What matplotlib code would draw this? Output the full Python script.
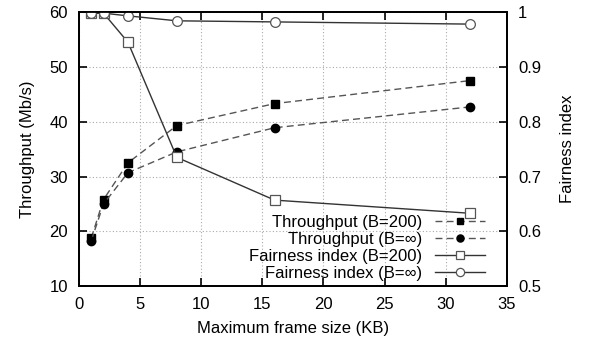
import matplotlib
matplotlib.use("Agg")
import matplotlib.pyplot as plt

plt.rcParams["font.family"] = ["Liberation Sans", "DejaVu Sans"]
plt.rcParams["font.size"] = 12

frame_kb = [1, 2, 4, 8, 16, 32]
thr_b200 = [18.8, 25.8, 32.5, 39.3, 43.3, 47.5]
thr_binf = [18.3, 25.0, 30.7, 34.5, 38.9, 42.7]
fair_b200 = [0.998, 0.998, 0.945, 0.735, 0.657, 0.633]
fair_binf = [0.998, 0.998, 0.993, 0.984, 0.982, 0.978]

fig, ax = plt.subplots(figsize=(5.9, 3.44), dpi=100)
ax2 = ax.twinx()

l1, = ax.plot(frame_kb, thr_b200, ls=(0, (5, 3)), color="#555555", lw=1,
              marker="s", ms=5.5, mfc="black", mec="black")
l2, = ax.plot(frame_kb, thr_binf, ls=(0, (5, 3)), color="#555555", lw=1,
              marker="o", ms=6, mfc="black", mec="black")
l3, = ax2.plot(frame_kb, fair_b200, ls="-", color="#333333", lw=1,
               marker="s", ms=6.5, mfc="white", mec="#555555", mew=0.9)
l4, = ax2.plot(frame_kb, fair_binf, ls="-", color="#333333", lw=1,
               marker="o", ms=7, mfc="white", mec="#555555", mew=0.9)

ax.set_xlim(0, 35)
ax.set_ylim(10, 60)
ax2.set_ylim(0.5, 1.0)
ax.set_xticks(range(0, 36, 5))
ax.set_yticks(range(10, 61, 10))
ax2.set_yticks([0.5, 0.6, 0.7, 0.8, 0.9, 1.0])
ax2.set_yticklabels(["0.5", "0.6", "0.7", "0.8", "0.9", "1"])

for a in (ax, ax2):
    for s in a.spines.values():
        s.set_linewidth(1.3)

ax.grid(True, ls=(0, (1, 2)), color="#aaaaaa", lw=0.8)
ax.tick_params(direction="in", length=6, width=1.2, top=True, right=False)
ax.tick_params(axis="x", pad=8)
ax.tick_params(axis="y", pad=8)
ax2.tick_params(direction="in", length=6, width=1.2, pad=8)

ax.set_xlabel("Maximum frame size (KB)", labelpad=6)
ax.set_ylabel("Throughput (Mb/s)", labelpad=10)
ax2.set_ylabel("Fairness index", labelpad=14)

ax2.legend([l1, l2, l3, l4],
           ["Throughput (B=200)", "Throughput (B=\u221e)",
            "Fairness index (B=200)", "Fairness index (B=\u221e)"],
           loc="lower right", frameon=False, markerfirst=False,
           handlelength=3.0, handletextpad=0.8, labelspacing=0.12,
           borderaxespad=0.0, markerscale=0.85,
           bbox_to_anchor=(0.965, -0.005))

fig.subplots_adjust(left=0.134, right=0.859, top=0.965, bottom=0.168)
fig.savefig("out.png")
